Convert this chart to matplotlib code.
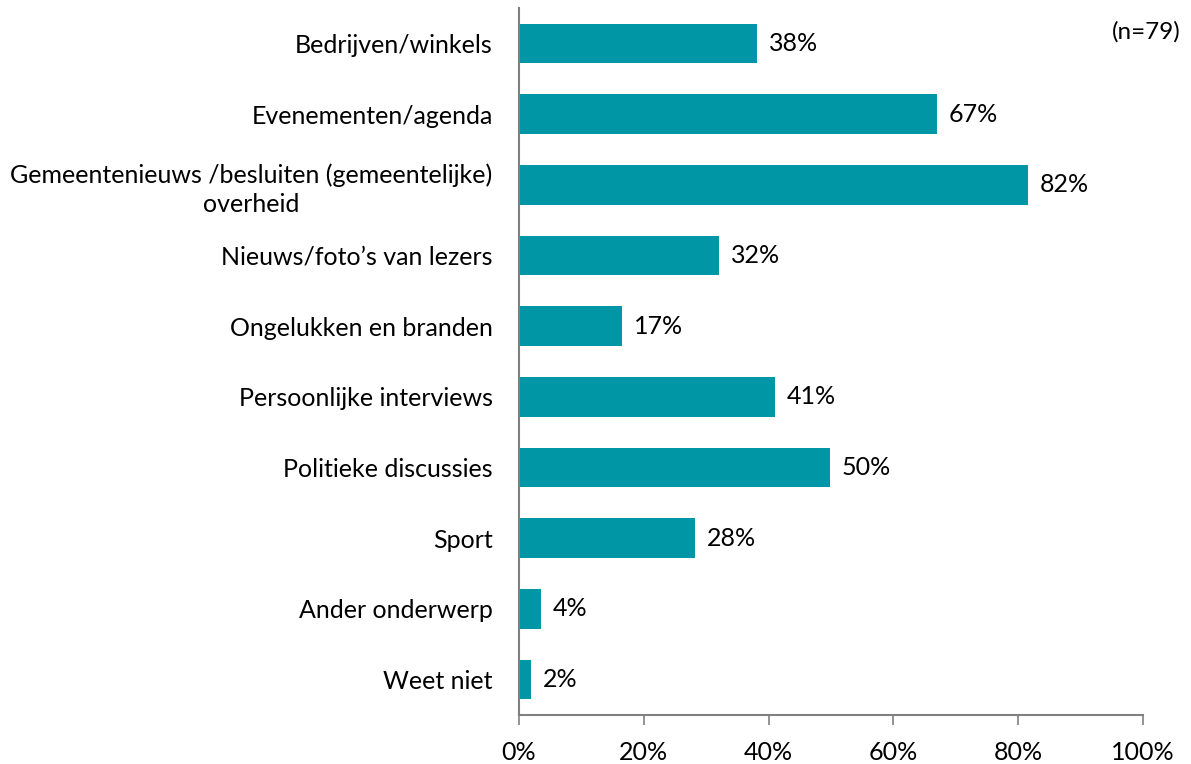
import matplotlib.pyplot as plt
import numpy as np

categories = ['Bedrijven/winkels', 'Evenementen/agenda',
              'Gemeentenieuws /besluiten (gemeentelijke)\noverheid',
              'Nieuws/foto\u2019s van lezers', 'Ongelukken en branden',
              'Persoonlijke interviews', 'Politieke discussies', 'Sport',
              'Ander onderwerp', 'Weet niet']
values = [38.1, 67.0, 81.6, 32.1, 16.5, 41.0, 49.8, 28.2, 3.5, 1.9]
labels = ['38%', '67%', '82%', '32%', '17%', '41%', '50%', '28%', '4%', '2%']
xticks = [0, 20, 40, 60, 80, 100]

plt.rcParams['font.family'] = ['Lato', 'DejaVu Sans']

fig = plt.figure(figsize=(11.91, 7.64), dpi=100)
ax = fig.add_axes([0.4358, 0.0641, 0.5239, 0.9254])

y = np.arange(len(categories))
ax.barh(y, values, height=0.56, color='#0096A5')
for yi, v, lab in zip(y, values, labels):
    ax.text(v + 1.9, yi, lab, va='center', ha='left', fontsize=18, color='black')

ax.set_ylim(len(categories) - 0.5, -0.5)
ax.set_xlim(0, 100)
ax.set_yticks(y)
ax.set_yticklabels(categories, fontsize=18, ha='right', multialignment='center',
                   linespacing=1.3)
ax.tick_params(axis='y', length=0, pad=19)
ax.set_xticks(xticks)
ax.set_xticklabels([f'{t}%' for t in xticks], fontsize=18)
ax.tick_params(axis='x', length=7, width=1.2, color='#808080', pad=12)

for s in ['top', 'right']:
    ax.spines[s].set_visible(False)
for s in ['left', 'bottom']:
    ax.spines[s].set_color('#808080')
    ax.spines[s].set_linewidth(1.5)

fig.text(0.991, 0.958, '(n=79)', ha='right', va='center', fontsize=17.5)

fig.savefig('out.png', dpi=100)
